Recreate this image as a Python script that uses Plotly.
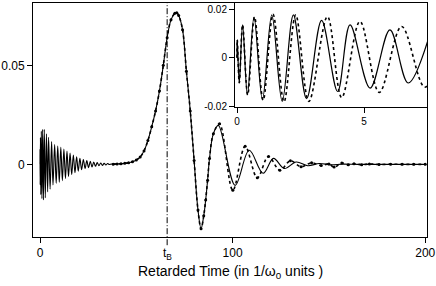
import plotly.graph_objects as go

# ---------------- data ----------------
# Inset: Sommerfeld precursor, numerical (solid) – extrema
inset_solid_t = [0.0, 0.01, 0.09, 0.22, 0.41, 0.67, 1.00, 1.37, 1.78, 2.22, 2.74, 3.33, 3.96, 4.45, 5.24, 6.02, 6.74, 7.60]
inset_solid_v = [0.0, 0.0074, -0.0103, 0.0136, -0.0153, 0.0168, -0.0173, 0.0177, -0.0180, 0.0177, -0.0169, 0.0154, -0.0139, 0.0136, -0.0125, 0.0115, -0.0104, 0.0100]
# Inset: asymptotic (dotted) – extrema
inset_dot_t = [0.0, 0.01, 0.09, 0.22, 0.42, 0.69, 1.03, 1.42, 1.85, 2.31, 2.83, 3.56, 4.12, 4.84, 5.60, 6.48, 7.40, 8.30]
inset_dot_v = [0.0, 0.0074, -0.0103, 0.0136, -0.0153, 0.0168, -0.0175, 0.0179, -0.0182, 0.0177, -0.0180, 0.0170, -0.0164, 0.0150, -0.0143, 0.0129, -0.0121, 0.0110]

# Main plot: later Sommerfeld oscillations (solid) – extrema
somm_t = [8.4, 9.2, 10.0, 10.8, 11.6, 12.4, 13.2, 14.0, 14.8, 15.6, 16.45, 17.3, 18.15, 19.0, 19.85,
          20.7, 21.6, 22.5, 23.4, 24.3, 25.2, 26.1, 27.0, 27.9, 28.8, 29.7, 30.6, 31.5, 32.4, 33.3,
          34.2, 35.1, 36.0, 37.0]
somm_v = [-0.0096, 0.0093, -0.0090, 0.0086, -0.0082, 0.0077, -0.0072, 0.0067, -0.0062, 0.0057, -0.0052,
          0.0047, -0.0042, 0.0038, -0.0034, 0.0030, -0.0027, 0.0024, -0.0021, 0.0019, -0.0017, 0.0015,
          -0.0013, 0.0012, -0.0010, 0.0009, -0.0007, 0.0007, -0.0005, 0.0005, -0.0003, 0.0004, -0.0001, 0.0002]

# Brillouin precursor (both curves coincide)
brill_t = [38, 40, 42, 44, 46, 48, 50, 52, 54, 56, 58, 60, 62, 64, 66, 68, 70, 71, 72, 74, 76, 78, 80,
           82, 83.6, 85, 86, 87, 88, 90]
brill_v = [0.0001, 0.0002, 0.0003, 0.0005, 0.0008, 0.0013, 0.0022, 0.0037, 0.0068, 0.0120, 0.0190, 0.0270,
           0.0370, 0.0500, 0.0640, 0.0730, 0.0763, 0.0766, 0.0752, 0.0680, 0.0470, 0.0270, 0.0020,
           -0.0230, -0.0325, -0.0260, -0.0180, -0.0080, 0.0030, 0.0155]

# Ringing after the Brillouin precursor
ring_solid_t = [92.6, 101.3, 108.6, 115.8, 121.2, 126.8, 133, 139, 145, 151, 157, 165, 180, 200]
ring_solid_v = [0.0197, -0.0106, 0.0071, -0.0045, 0.0030, -0.0021, 0.0012, -0.0007, 0.0004, -0.0002,
                0.0001, 0.0, 0.0, 0.0]
ring_dot_t = [93.2, 100.1, 106.5, 112.8, 118.6, 124.5, 130, 135.5, 141, 146, 150, 152.7, 156.7, 160, 163,
              167, 171, 176, 182, 188, 194, 200]
ring_dot_v = [0.0205, -0.0131, 0.0091, -0.0068, 0.0040, -0.0030, 0.0018, -0.0012, 0.0008, -0.0006, 0.0002,
              -0.0014, 0.0007, -0.0002, 0.0003, -0.0002, 0.0002, -0.0001, 0.0001, 0.0, 0.0, 0.0]

t_B = 66.0

main_xticks = [0, 100, 200]
main_yticks = [0, 0.05]
main_yticktext = ["0", "0.05"]
inset_xticks = [0, 5]
inset_yticks = [-0.02, 0, 0.02]
inset_yticktext = ["-0.02", "0", "0.02"]
x_title = "Retarded Time (in 1/ω<sub>0</sub> units )"

# ---------------- figure ----------------
main_solid_t = inset_solid_t + somm_t + brill_t + ring_solid_t
main_solid_v = inset_solid_v + somm_v + brill_v + ring_solid_v
main_dot_t = brill_t + ring_dot_t
main_dot_v = brill_v + ring_dot_v

fig = go.Figure()
fig.add_trace(go.Scatter(x=main_solid_t, y=main_solid_v, mode="lines",
                         line=dict(color="black", width=1.1, shape="spline", smoothing=1),
                         xaxis="x", yaxis="y", showlegend=False, hoverinfo="skip"))
fig.add_trace(go.Scatter(x=main_dot_t, y=main_dot_v, mode="lines+markers",
                         line=dict(color="black", width=1.6, dash="dot", shape="spline", smoothing=1),
                         marker=dict(color="black", size=3),
                         xaxis="x", yaxis="y", showlegend=False, hoverinfo="skip"))
fig.add_trace(go.Scatter(x=inset_solid_t, y=inset_solid_v, mode="lines",
                         line=dict(color="black", width=1.2, shape="spline", smoothing=1),
                         xaxis="x2", yaxis="y2", showlegend=False, hoverinfo="skip"))
fig.add_trace(go.Scatter(x=inset_dot_t, y=inset_dot_v, mode="lines",
                         line=dict(color="black", width=1.6, dash="dot", shape="spline", smoothing=1),
                         xaxis="x2", yaxis="y2", showlegend=False, hoverinfo="skip"))

fig.add_shape(type="line", xref="x", yref="paper", x0=t_B, x1=t_B, y0=-0.035, y1=1,
              line=dict(color="black", width=1, dash="6px,2px,1px,2px"))
fig.add_annotation(x=t_B, xref="x", y=0, yref="paper", yanchor="top", yshift=-7,
                   text="t<sub>B</sub>", showarrow=False, font=dict(size=12, color="black"))
fig.add_annotation(x=0.5, xref="paper", y=-0.15, yref="paper", yanchor="middle", xanchor="center",
                   text=x_title, showarrow=False, font=dict(size=14, color="black"))

axis_common = dict(showline=True, linecolor="black", linewidth=1, mirror=True, ticks="outside",
                   tickcolor="black", ticklen=5, showgrid=False, zeroline=False, automargin=False)

fig.update_layout(
    width=436, height=286,
    margin=dict(l=33, r=9, t=3, b=49),
    paper_bgcolor="white", plot_bgcolor="white",
    hovermode=False,
    font=dict(family="Arial, Liberation Sans, sans-serif", color="black", size=12),
    xaxis=dict(domain=[0, 1], range=[-3.64, 200.9], tickvals=main_xticks,
               tickfont=dict(size=12), **axis_common),
    yaxis=dict(domain=[0, 1], range=[-0.0367, 0.0815], tickvals=main_yticks, ticktext=main_yticktext,
               tickfont=dict(size=12), **axis_common),
    xaxis2=dict(domain=[0.5127, 1], anchor="y2", range=[-0.079, 7.48], tickvals=inset_xticks,
                tickfont=dict(size=10), **axis_common),
    yaxis2=dict(domain=[0.5556, 1], anchor="x2", range=[-0.0203, 0.0226], tickvals=inset_yticks,
                ticktext=inset_yticktext, tickfont=dict(size=10), **axis_common),
)

fig.write_html("out.html", config={"displayModeBar": False},
               post_script="document.body.style.margin='0';document.body.style.padding='0';")
